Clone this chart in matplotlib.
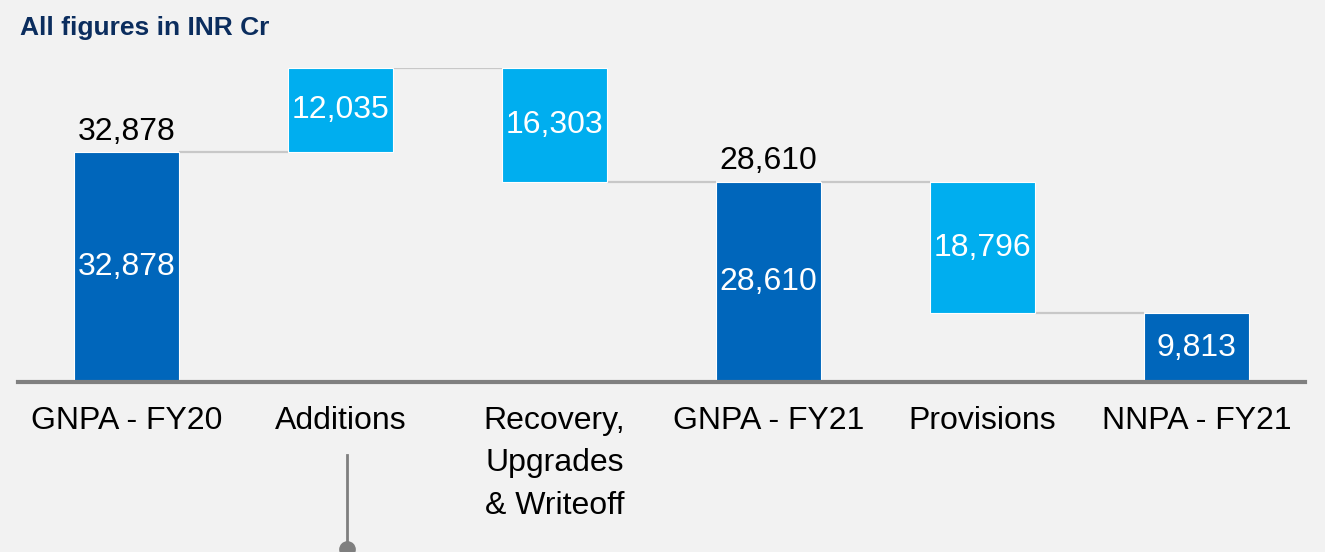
import numpy as np
import matplotlib.pyplot as plt
from matplotlib.lines import Line2D

categories = ['GNPA - FY20', 'Additions', 'Recovery,\nUpgrades\n& Writeoff',
              'GNPA - FY21', 'Provisions', 'NNPA - FY21']
values = [32878, 12035, -16303, 28610, -18796, 9813]
is_total = [True, False, False, True, False, True]
top_labels = ['32,878', '', '', '28,610', '', '']

dark_blue = '#0066BB'
light_blue = '#00AEEF'
bg = '#F2F2F2'

plt.rcParams['font.family'] = ['Liberation Sans', 'DejaVu Sans']

fig = plt.figure(figsize=(13.25, 5.52), dpi=100, facecolor=bg)
ax = fig.add_axes([18 / 1325, 1 - 382 / 552, (1305 - 18) / 1325, (382 - 68) / 552])
ax.set_facecolor(bg)

x = np.arange(len(categories))
width = 0.495
bottoms, heights = [], []
level = 0
for v, tot in zip(values, is_total):
    if tot:
        bottoms.append(0)
        heights.append(v)
        level = v
    else:
        if v >= 0:
            bottoms.append(level)
            heights.append(v)
        else:
            bottoms.append(level + v)
            heights.append(-v)
        level += v

colors = [dark_blue if t else light_blue for t in is_total]
ax.bar(x, heights, width, bottom=bottoms, color=colors, edgecolor='white', linewidth=0.8, zorder=3)

# connectors between bars
for i in range(len(x) - 1):
    if not is_total[i] and values[i] < 0:
        y_lvl = bottoms[i]
    else:
        y_lvl = bottoms[i] + heights[i]
    ax.plot([x[i] + width / 2, x[i + 1] - width / 2], [y_lvl, y_lvl],
            color='#C8C8C8', lw=1.6, zorder=2, solid_capstyle='butt')

fs = 23
# value labels inside bars
for xi, b, h, v in zip(x, bottoms, heights, values):
    ax.text(xi, b + h / 2, f'{abs(v):,}', ha='center', va='center',
            color='white', fontsize=fs, zorder=4)

# totals above bars
for xi, b, h, lab in zip(x, bottoms, heights, top_labels):
    if lab:
        ax.annotate(lab, (xi, b + h), xytext=(0, 4), textcoords='offset points',
                    ha='center', va='bottom', color='black', fontsize=fs, zorder=4)

ax.set_xlim(-0.507, 5.507)
ax.set_ylim(0, 44913)
ax.axhline(0, color='#808080', lw=3, zorder=5, clip_on=False)
for s in ax.spines.values():
    s.set_visible(False)
ax.set_yticks([])
ax.set_xticks(x)
ax.set_xticklabels(categories, fontsize=fs, linespacing=1.55)
ax.tick_params(axis='x', length=0, pad=17)

fig.text(20 / 1325, 1 - 28 / 552, 'All figures in INR Cr', fontsize=19,
         fontweight='bold', color='#0B2D5E', ha='left', va='center')

fig.add_artist(Line2D([347 / 1325, 347 / 1325], [1 - 455 / 552, 1 - 548 / 552],
                      color='#7F7F7F', lw=2, transform=fig.transFigure))
fig.add_artist(Line2D([347 / 1325], [1 - 549 / 552], marker='o', markersize=11,
                      color='#7F7F7F', transform=fig.transFigure))

fig.savefig('out.png', dpi=100, facecolor=bg)
